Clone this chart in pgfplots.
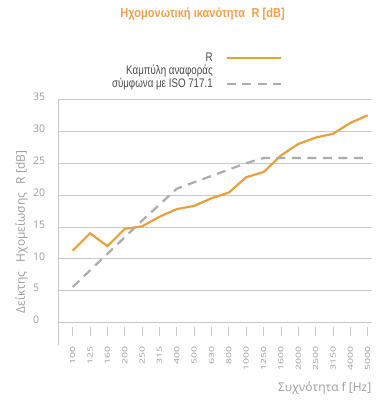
\documentclass[border=0pt]{standalone}
\usepackage{fontspec}
\usepackage{pgfplots}
\pgfplotsset{compat=1.18}
\setmainfont{Open Sans}
\newfontfamily\narrowfont[FakeStretch=0.78]{Liberation Sans}
\newfontfamily\titlefont[FakeStretch=0.85]{Liberation Sans}
\newfontfamily\tickfont[FakeStretch=1.5]{Open Sans}
\definecolor{rline}{HTML}{E8A03C}
\definecolor{titleor}{HTML}{EFA04A}
\definecolor{refgray}{HTML}{ABABAB}
\definecolor{gridc}{HTML}{C8C8C8}
\definecolor{labgray}{HTML}{9C9C9C}
\definecolor{legtext}{HTML}{4A4A4A}
\begin{document}
\begin{tikzpicture}
\useasboundingbox (-58.5pt,-77.3pt) rectangle (320.5pt,322.7pt);
\begin{axis}[
  at={(0,0)}, anchor=south west,
  scale only axis, width=313.2pt, height=223.4pt,
  xmin=-0.82, xmax=17.23, ymin=0, ymax=35,
  axis lines*=left,
  x axis line style={draw=gridc, line width=0.8pt},
  y axis line style={draw=gridc, line width=0.8pt, shorten <=-22.3pt},
  ytick={0,5,...,35},
  ymajorgrids, grid style={draw=gridc, line width=0.8pt},
  ytick style={draw=none},
  xtick={0,...,17},
  xticklabels={100,125,160,200,250,315,400,500,630,800,1000,1250,1600,2000,2500,3150,4000,5000},
  tick align=outside,
  major tick length=9pt,
  xtick style={draw=gridc, line width=0.8pt, yshift=-4pt},
  xticklabel style={yshift=-14.3pt, rotate=90, anchor=east, inner sep=0pt,
    font=\tickfont\fontsize{7}{8}\selectfont, text=labgray},
  /pgf/number format/assume math mode=true,
  yticklabel style={anchor=west, inner sep=0pt, xshift=-16.5pt, yshift=2.5pt,
    font=\fontsize{10.5}{12}\selectfont, text=labgray},
  title={Ηχομονωτική ικανότητα\enspace R [dB]},
  title style={at={(axis description cs:0.46,1.355)}, anchor=center,
    font=\titlefont\bfseries\fontsize{13}{15}\selectfont, text=titleor},
  xlabel={Συχνότητα f [Hz]},
  xlabel style={at={(axis description cs:1.01,-0.292)}, anchor=east,
    font=\fontsize{12}{14}\selectfont, text=labgray},
  ylabel={Δείκτης\hspace{0.8em}Ηχομείωσης\hspace{0.7em}R [dB]},
  ylabel style={at={(axis description cs:-0.118,0.406)}, anchor=center, rotate=0,
    font=\fontsize{12}{14}\selectfont, text=labgray},
  legend plot pos=right,
  legend cell align=right,
  legend image code/.code={\draw[#1] (0pt,0pt) -- (54pt,0pt);},
  legend style={draw=none, fill=none, at={(axis description cs:0.714,1.212)},
    anchor=north east, inner sep=0pt, row sep=0pt, column sep=12pt,
    font=\narrowfont\fontsize{12.5}{14}\selectfont, text=legtext,
    nodes={inner sep=1pt}},
]
\addplot[rline, line width=2.2pt] coordinates {
 (0,11.3) (1,14.0) (2,12.0) (3,14.7) (4,15.1) (5,16.6) (6,17.8) (7,18.3)
 (8,19.5) (9,20.4) (10,22.8) (11,23.6) (12,26.2) (13,28.0) (14,29.0)
 (15,29.6) (16,31.3) (17,32.5)};
\addlegendentry{R}
\addlegendimage{empty legend}
\addlegendentry{Καμπύλη αναφοράς}
\addplot[refgray, line width=2.2pt, dash pattern=on 9pt off 6.5pt] coordinates {
 (0,5.6) (1,8.2) (2,10.8) (3,13.4) (4,16.0) (5,18.5) (6,21.0) (7,22.0)
 (8,23.0) (9,24.0) (10,25.0) (11,25.8) (12,25.8) (13,25.8) (14,25.8)
 (15,25.8) (16,25.8) (17,25.8)};
\addlegendentry{σύμφωνα με ISO 717.1}
\end{axis}
\end{tikzpicture}
\end{document}
